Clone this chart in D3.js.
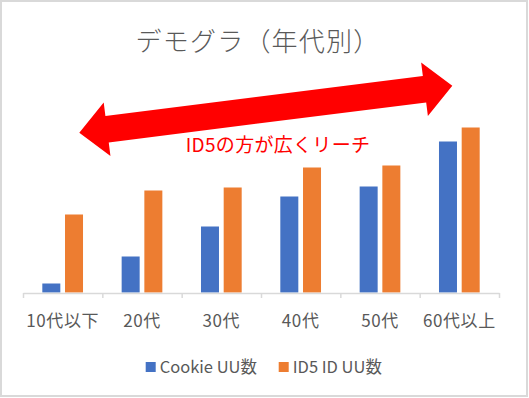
<!DOCTYPE html>
<html>
<head>
<meta charset="utf-8">
<title>デモグラ（年代別）</title>
<script src="https://d3js.org/d3.v7.min.js"></script>
<style>
  body { margin: 0; background: #fff; }
  svg text { font-family: "Noto Sans CJK JP", "Noto Sans", sans-serif; }
</style>
</head>
<body>
<div id="chart"></div>
<script>

// data (no value axis in the source, so units are relative bar heights)
var ages = ['10代以下', '20代', '30代', '40代', '50代', '60代以上'];
var cookieUU = [9, 36, 66, 96, 106, 151];
var id5UU = [78, 102, 105, 125, 127, 165];
var seriesNames = ['Cookie UU数', 'ID5 ID UU数'];
var seriesColors = ['#4472C4', '#ED7D31'];

var width = 529, height = 398;

var svg = d3.select('#chart').append('svg')
  .attr('width', width)
  .attr('height', height);

// outer frame
svg.append('rect')
  .attr('x', 1).attr('y', 1)
  .attr('width', width - 3).attr('height', height - 3)
  .attr('fill', '#fff')
  .attr('stroke', '#D9D9D9')
  .attr('stroke-width', 2);

var plot = { left: 23, right: 499, top: 112, bottom: 292.5 };

var x0 = d3.scaleBand()
  .domain(ages)
  .range([plot.left, plot.right])
  .paddingInner(0.487)
  .paddingOuter(0.2435);

var x1 = d3.scaleBand()
  .domain(d3.range(seriesNames.length))
  .range([0, x0.bandwidth()])
  .paddingInner(0.207);

var y = d3.scaleLinear()
  .domain([0, 180])
  .range([plot.bottom, plot.bottom - 180]);

var rows = ages.map(function (a, i) {
  return { age: a, values: [cookieUU[i], id5UU[i]] };
});

var groups = svg.append('g')
  .selectAll('g')
  .data(rows)
  .enter().append('g')
    .attr('transform', function (d) { return 'translate(' + x0(d.age) + ',0)'; });

groups.selectAll('rect')
  .data(function (d) { return d.values; })
  .enter().append('rect')
    .attr('x', function (d, i) { return x1(i); })
    .attr('y', function (d) { return y(d); })
    .attr('width', x1.bandwidth())
    .attr('height', function (d) { return y(0) - y(d); })
    .attr('fill', function (d, i) { return seriesColors[i]; });

// category axis: ticks on the boundaries, labels under each band
var xb = d3.scaleLinear().domain([0, ages.length]).range([plot.left, plot.right]);
var axis = svg.append('g')
  .attr('transform', 'translate(0,' + (plot.bottom + 0.5) + ')')
  .call(d3.axisBottom(xb).tickValues(d3.range(ages.length + 1)).tickFormat('').tickSize(5).tickSizeOuter(0));
axis.select('.domain').attr('stroke', '#D9D9D9').attr('stroke-width', 1.5);
axis.selectAll('.tick line').attr('stroke', '#D9D9D9').attr('stroke-width', 1.5);

svg.append('g')
  .selectAll('text')
  .data(ages)
  .enter().append('text')
    .attr('x', function (d) { return x0(d) + x0.bandwidth() / 2; })
    .attr('y', 327)
    .attr('text-anchor', 'middle')
    .attr('font-size', 17)
    .attr('letter-spacing', 0.6)
    .attr('fill', '#595959')
    .text(function (d) { return d; });

// title
svg.append('text')
  .attr('x', 258)
  .attr('y', 51)
  .attr('text-anchor', 'middle')
  .attr('font-size', 26)
  .attr('font-weight', 300)
  .attr('letter-spacing', 1.2)
  .attr('fill', '#595959')
  .text('デモグラ（年代別）');

// double headed arrow annotation
var tipL = [79.3, 132.7], tipR = [452.3, 85.7];
var len = Math.hypot(tipR[0] - tipL[0], tipR[1] - tipL[1]);
var ang = Math.atan2(tipR[1] - tipL[1], tipR[0] - tipL[0]) * 180 / Math.PI;
var hl = 28, hw = 27, sw = 13.3;
var arrowPts = [[0, 0], [hl, -hw], [hl, -sw], [len - hl, -sw], [len - hl, -hw], [len, 0],
  [len - hl, hw], [len - hl, sw], [hl, sw], [hl, hw]];
svg.append('path')
  .attr('transform', 'translate(' + tipL[0] + ',' + tipL[1] + ') rotate(' + ang + ')')
  .attr('d', d3.line()(arrowPts) + 'Z')
  .attr('fill', '#FF0000');

svg.append('text')
  .attr('x', 278)
  .attr('y', 152)
  .attr('text-anchor', 'middle')
  .attr('font-size', 19)
  .attr('letter-spacing', 0.3)
  .attr('fill', '#FF0000')
  .text('ID5の方が広くリーチ');

// legend
var legendX = [145.7, 278.7];
var legend = svg.append('g')
  .selectAll('g')
  .data(seriesNames)
  .enter().append('g')
    .attr('transform', function (d, i) { return 'translate(' + legendX[i] + ',362)'; });
legend.append('rect')
  .attr('width', 10).attr('height', 10)
  .attr('fill', function (d, i) { return seriesColors[i]; });
legend.append('text')
  .attr('x', 14)
  .attr('y', 10.5)
  .attr('font-size', 16.5)
  .attr('fill', '#595959')
  .text(function (d) { return d; });

</script>
</body>
</html>
